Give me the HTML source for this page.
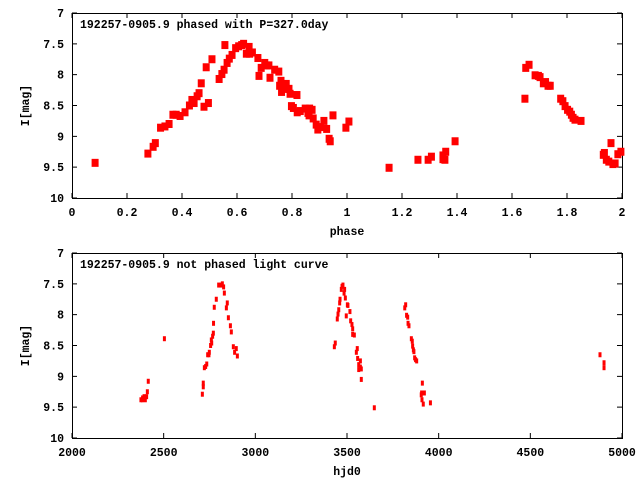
<!DOCTYPE html>
<html><head><meta charset="utf-8"><style>
html,body{margin:0;padding:0;background:#fff;}
svg{display:block;}
text{font-family:"Liberation Mono",monospace;font-weight:bold;font-size:11.5px;fill:#000;}
</style></head><body>
<svg id="chart" width="640" height="480" viewBox="0 0 640 480" xmlns="http://www.w3.org/2000/svg"></svg>
<script>
const phaseX=[0.084,0.276,0.295,0.303,0.322,0.338,0.353,0.367,0.379,0.393,0.411,0.427,0.436,0.444,0.455,0.462,0.470,0.480,0.496,0.488,0.509,0.535,0.545,0.553,0.556,0.564,0.572,0.582,0.595,0.606,0.617,0.624,0.634,0.644,0.646,0.656,0.676,0.680,0.688,0.701,0.707,0.716,0.720,0.737,0.752,0.755,0.760,0.762,0.770,0.779,0.789,0.793,0.798,0.805,0.818,0.819,0.830,0.848,0.858,0.864,0.873,0.862,0.877,0.888,0.894,0.903,0.916,0.926,0.935,0.939,0.949,0.996,1.007,
1.153,1.258,1.295,1.307,1.349,1.349,1.359,1.356,1.393,1.647,1.650,1.662,1.684,1.696,1.702,1.714,1.722,1.731,1.739,1.777,1.785,1.793,1.802,1.810,1.816,1.822,1.829,1.851,1.932,1.936,1.943,1.952,1.960,1.967,1.975,1.985,1.996];
const phaseMag=[9.43,9.28,9.17,9.11,8.86,8.84,8.80,8.65,8.65,8.67,8.61,8.50,8.41,8.46,8.35,8.30,8.14,8.52,8.46,7.88,7.75,8.07,7.99,7.92,7.52,7.81,7.74,7.68,7.57,7.54,7.52,7.50,7.66,7.55,7.66,7.64,7.73,8.02,7.89,7.81,7.85,7.85,8.05,7.92,7.95,8.18,8.10,8.28,8.23,8.15,8.23,8.31,8.51,8.54,8.33,8.61,8.59,8.55,8.62,8.55,8.57,8.66,8.71,8.81,8.89,8.85,8.75,8.88,9.04,9.08,8.66,8.86,8.76,
9.51,9.38,9.38,9.33,9.31,9.37,9.25,9.38,9.08,8.39,7.89,7.84,8.01,8.02,8.04,8.14,8.12,8.18,8.18,8.39,8.43,8.51,8.57,8.60,8.65,8.70,8.73,8.75,9.30,9.27,9.38,9.41,9.11,9.45,9.44,9.29,9.25];
const hjd=[2376,2385,2393,2400,2407,2411,2416,2385,2398,2504,2711,2716,2716,2722,2729,2735,2740,2747,2749,2756,2760,2762,2767,2771,2772,2776,2787,2800,2813,2820,2827,2831,2842,2847,2853,2864,2869,2880,2887,2896,2902,
3431,3436,3447,3451,3455,3460,3462,3469,3473,3478,3484,3487,3491,3496,3502,3505,3516,3520,3527,3531,3531,3540,3551,3556,3558,3564,3564,3573,3573,3578,3578,3649,
3815,3820,3825,3831,3833,3838,3851,3856,3858,3862,3865,3869,3874,3880,3905,3911,3907,3909,3916,3922,3955,4880,4902,4902];
const hjdMag=[9.38,9.35,9.33,9.38,9.33,9.25,9.08,9.38,9.36,8.39,9.29,9.17,9.11,8.86,8.84,8.80,8.65,8.65,8.61,8.50,8.41,8.46,8.35,8.30,8.14,7.88,7.75,7.52,7.52,7.50,7.55,7.65,7.89,7.81,8.05,8.18,8.28,8.52,8.61,8.55,8.67,
8.52,8.46,8.07,7.99,7.92,7.81,7.75,7.59,7.54,7.52,7.65,7.59,7.73,8.02,7.84,7.85,7.95,8.10,8.16,8.23,8.32,8.33,8.61,8.55,8.71,8.81,8.89,8.85,8.75,8.88,9.05,9.51,
7.89,7.84,8.01,8.04,8.14,8.18,8.39,8.43,8.51,8.57,8.60,8.70,8.73,8.75,9.30,9.11,9.27,9.38,9.45,9.27,9.43,8.65,8.78,8.86];
const phaseTicks=["0","0.2","0.4","0.6","0.8","1","1.2","1.4","1.6","1.8","2"];
const hjdTicks=["2000","2500","3000","3500","4000","4500","5000"];
const magTicks=["7","7.5","8","8.5","9","9.5","10"];

const svg=document.getElementById('chart');
const NS='http://www.w3.org/2000/svg';
function mk(tag,attrs,parent){const e=document.createElementNS(NS,tag);for(const k in attrs)e.setAttribute(k,attrs[k]);(parent||svg).appendChild(e);return e;}

function panel(cfg){
  const g=mk('g',{});
  
  
  const L=72,R=622,T=cfg.top,B=cfg.top+185;
  const sx=v=>L+(v-cfg.xmin)/(cfg.xmax-cfg.xmin)*(R-L);
  const sy=v=>T+(v-7)/3*(B-T);
  cfg.xticks.forEach(t=>{const v=parseFloat(t);const x=sx(v);
    const tk=mk('path',{d:`M${x},${B}v-5M${x},${T}v5`,stroke:'#000','stroke-width':1},g);
    
    
    const tx=mk('text',{x:x,y:B+18,'text-anchor':'middle'},g);tx.textContent=t;
    
    
  });
  magTicks.forEach(t=>{const v=parseFloat(t);const y=sy(v);
    const tk=mk('path',{d:`M${L},${y}h5M${R},${y}h-5`,stroke:'#000','stroke-width':1},g);
    
    
    const tx=mk('text',{x:64,y:y+4,'text-anchor':'end'},g);tx.textContent=t;
    
    
  });
  const fr=mk('rect',{x:L+0.5,y:T+0.5,width:R-L,height:B-T,fill:'none',stroke:'#000','stroke-width':1},g);
  
  
  const ti=mk('text',{x:80,y:T+15},g);ti.textContent=cfg.title;
  
  
  const xl=mk('text',{x:347,y:B+37,'text-anchor':'middle'},g);xl.textContent=cfg.xlabel;
  
  
  const yl=mk('text',{x:0,y:0,'text-anchor':'middle',transform:`translate(29,${(T+B)/2}) rotate(-90)`},g);yl.textContent='I[mag]';
  
  
  cfg.xs.forEach((v,i)=>{
    const x=sx(v),y=sy(cfg.ys[i]);
    const p=mk('rect',{x:x-cfg.w/2,y:y-cfg.h/2,width:cfg.w,height:cfg.h,fill:'#f00'},g);
    
    
  });
}
panel({name:'phased-panel',top:13,xmin:0,xmax:2,xticks:phaseTicks,xs:phaseX,ys:phaseMag,w:7,h:8,title:'192257-0905.9 phased with P=327.0day',xlabel:'phase'});
panel({name:'unphased-panel',top:253,xmin:2000,xmax:5000,xticks:hjdTicks,xs:hjd,ys:hjdMag,w:3,h:5,title:'192257-0905.9 not phased light curve',xlabel:'hjd0'});
</script>
</body></html>
